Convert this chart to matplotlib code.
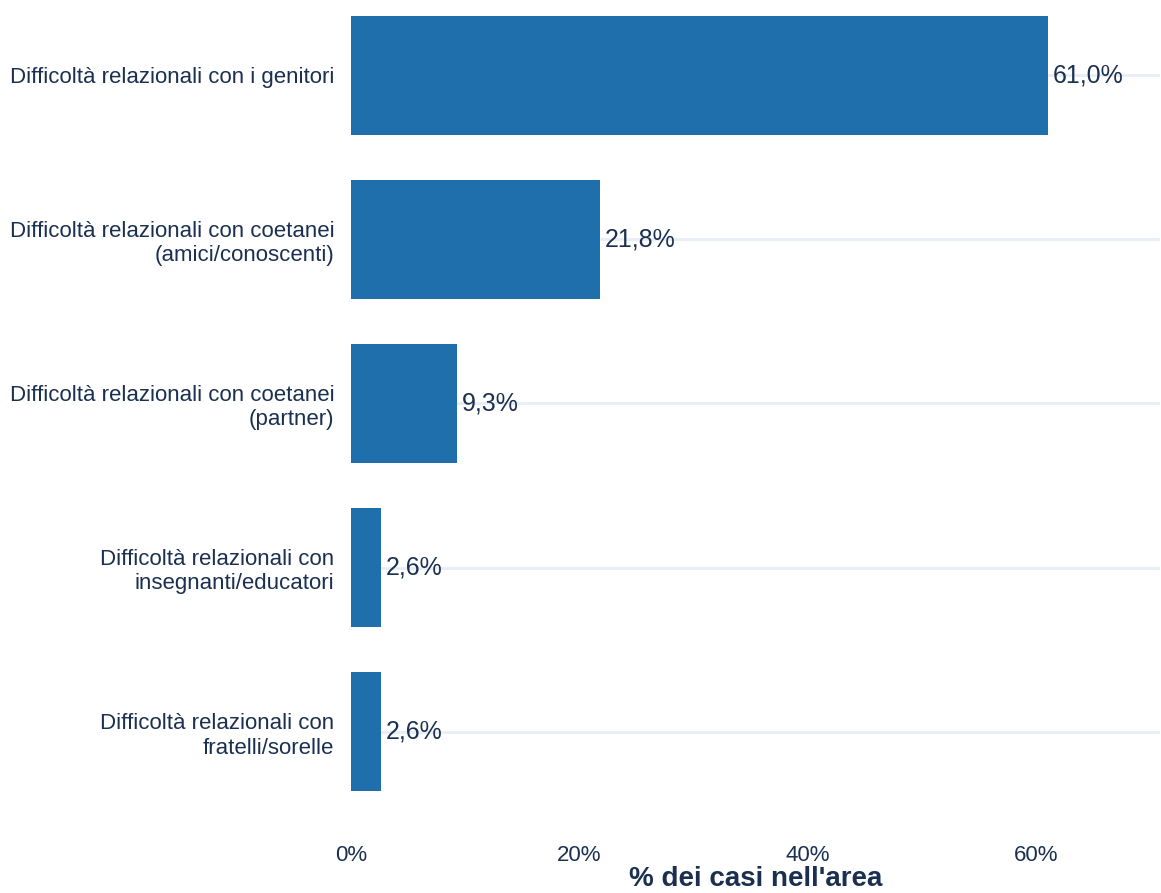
import matplotlib
matplotlib.use('Agg')
import matplotlib.pyplot as plt

# relational difficulty categories, share of cases in the area (%)
categories = [
    "Difficoltà relazionali con i genitori",
    "Difficoltà relazionali con coetanei\n(amici/conoscenti)",
    "Difficoltà relazionali con coetanei\n(partner)",
    "Difficoltà relazionali con\ninsegnanti/educatori",
    "Difficoltà relazionali con\nfratelli/sorelle",
]
values = [61.0, 21.8, 9.3, 2.6, 2.6]
xticks = [0, 20, 40, 60]

text_col = '#1b3050'
bar_col = '#1f6fad'
grid_col = '#e6eef7'

plt.rcParams['font.family'] = ['Liberation Sans', 'DejaVu Sans']

fig = plt.figure(figsize=(11.61, 8.93), dpi=100, facecolor='white')
W, H = 1161, 893
ax = fig.add_axes([351 / W, (H - 814) / H, (1160 - 351) / W, 814 / H])

ypos = list(range(len(categories)))
for y in ypos:
    ax.axhline(y, color=grid_col, lw=2, zorder=0)
ax.barh(ypos, values, height=0.725, color=bar_col, zorder=1)

for y, v in zip(ypos, values):
    ax.text(v + 0.4, y, ('%.1f%%' % v).replace('.', ','), va='center', ha='left',
            fontsize=18, color=text_col, zorder=3)

ax.set_xlim(0, 70.8)
ax.set_ylim(4.5, -0.457)
ax.set_yticks(ypos)
ax.set_yticklabels(categories, fontsize=16, color=text_col, linespacing=1.2)
ax.set_xticks(xticks)
ax.set_xticklabels(['%d%%' % t for t in xticks], fontsize=16, color=text_col)
ax.tick_params(axis='y', length=0, pad=12)
ax.tick_params(axis='x', length=0, pad=22)
for s in ax.spines.values():
    s.set_visible(False)

# axis title placed below the tick labels, centred on the plot area
fig.text((351 + 1160) / 2 / W, 1 - 879 / H, "% dei casi nell'area", ha='center',
         va='center', fontsize=20, fontweight='bold', color=text_col)

fig.savefig('out.png', dpi=100, facecolor='white')
